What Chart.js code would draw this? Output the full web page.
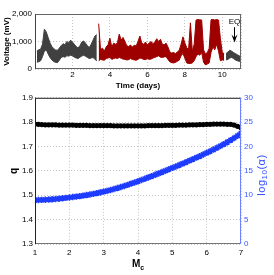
<!DOCTYPE html>
<html lang="en">
<head>
  <meta charset="UTF-8" />
  <title>Voltage and q</title>
  <script src="https://cdn.jsdelivr.net/npm/chart.js"></script>
  <style>
    html, body { margin: 0; padding: 0; background: #fff; overflow: hidden; }
    body { position: relative; width: 274px; height: 275px; font-family: "Liberation Sans", Arial, sans-serif; }
    canvas { position: absolute; left: 0; }
    #topChart { top: 0; }
    #bottomChart { top: 90px; }
    #mcTitle { position: absolute; left: 88px; top: 259px; width: 100px; text-align: center;
               font-weight: bold; font-size: 10px; line-height: 10px; color: #000; }
    #mcTitle sub { font-size: 7px; vertical-align: -3px; line-height: 0; }
    #alphaTitle { position: absolute; left: 221px; top: 169px; width: 80px; height: 12px; line-height: 12px;
                  text-align: center; font-size: 11px; color: #2f4dff; transform: rotate(-90deg); letter-spacing: 0.5px; }
    #alphaTitle sub { font-size: 8px; vertical-align: -2px; line-height: 0; }
  </style>
</head>
<body>
  <canvas id="topChart" width="274" height="92"></canvas>
  <canvas id="bottomChart" width="274" height="185"></canvas>
  <div id="mcTitle">M<sub>c</sub></div>
  <div id="alphaTitle">log<sub>10</sub>(α)</div>

  <script>
    // --- top panel: voltage envelope, sampled every 0.1 day (low / high of the noisy band)
    const sampleStep = 0.1;
    const grayAStart = 0.1;
    const grayALow  = [250, 260, 300, 450, 650, 700, 550, 420, 330, 270, 240, 230, 320, 420, 450, 430, 480, 470, 500, 480, 430, 400, 380, 430, 470, 500, 460, 420, 380, 400, 420, 350, 300];
    const grayAHigh = [650, 700, 720, 900, 1450, 1350, 1150, 950, 820, 740, 690, 680, 760, 850, 920, 880, 1000, 950, 1050, 980, 900, 820, 760, 850, 980, 1020, 940, 850, 780, 900, 1050, 1200, 1250];

    const redStart = 3.4;
    const redLow  = [300, 350, 330, 320, 380, 400, 420, 350, 380, 400, 380, 420, 390, 360, 350, 330, 340, 380, 350, 330,
                     320, 350, 400, 380, 350, 340, 380, 350, 360, 400, 420, 450, 480, 430, 420, 440, 450, 350, 260, 230,
                     220, 240, 280, 320, 480, 560, 400, 220, 200, 200, 220, 300, 450, 550, 500, 600, 250, 150, 180, 220,
                     600, 800, 700, 900, 650, 300, 330, 320];
    const redHigh = [1650, 700, 760, 650, 800, 880, 1120, 800, 940, 900, 950, 1270, 1050, 1150, 1000, 850, 820, 870, 800, 860,
                     840, 1000, 1200, 950, 900, 980, 870, 950, 1000, 920, 980, 1100, 1000, 1080, 900, 880, 940, 800, 620, 580,
                     600, 560, 620, 680, 900, 1170, 950, 780, 700, 1680, 650, 900, 1780, 1800, 1790, 1780, 700, 550, 600, 750,
                     1790, 1800, 1780, 1800, 1780, 1100, 600, 560];

    const grayBStart = 10.2;
    const grayBLow  = [330, 350, 400, 420, 380, 330, 300, 280, 270];
    const grayBHigh = [560, 620, 680, 650, 600, 560, 520, 480, 450];

    const eqDay = 10.65;
    const eqLabelMv = 1720;
    const arrowFromMv = 1520;
    const arrowToMv = 960;

    // --- bottom panel
    const mcStart = 1, mcStep = 0.1;
    const qValues = [1.792, 1.791, 1.790, 1.789, 1.789, 1.789, 1.789, 1.788, 1.788, 1.788, 1.788,
                     1.788, 1.787, 1.787, 1.787, 1.787, 1.786, 1.786, 1.786, 1.786, 1.786,
                     1.786, 1.786, 1.785, 1.785, 1.785, 1.785, 1.785, 1.785, 1.785, 1.785,
                     1.785, 1.785, 1.786, 1.786, 1.786, 1.786, 1.786, 1.787, 1.787, 1.787,
                     1.787, 1.788, 1.788, 1.788, 1.789, 1.789, 1.789, 1.790, 1.790, 1.791,
                     1.791, 1.792, 1.792, 1.792, 1.792, 1.791, 1.791, 1.788, 1.783, 1.777];
    const logAlpha = [9.00, 9.02, 9.05, 9.08, 9.12, 9.17, 9.23, 9.30, 9.38, 9.46, 9.55,
                      9.64, 9.73, 9.83, 9.93, 10.04, 10.16, 10.29, 10.43, 10.58, 10.74,
                      10.91, 11.09, 11.28, 11.48, 11.69, 11.91, 12.14, 12.38, 12.62, 12.87,
                      13.13, 13.39, 13.66, 13.93, 14.20, 14.48, 14.76, 15.04, 15.33, 15.62,
                      15.91, 16.20, 16.50, 16.80, 17.10, 17.41, 17.72, 18.04, 18.36, 18.69,
                      19.03, 19.38, 19.74, 20.11, 20.49, 20.89, 21.31, 21.75, 22.21, 22.70];

    const grayColor = '#404040';
    const redColor = '#9e0000';
    const blue = '#1e3cff';
    const blueAxis = '#6f82ff';
    const gridDash = [1, 2];

    Chart.defaults.font.family = '"Liberation Sans", Arial, sans-serif';
    Chart.defaults.font.size = 8;
    Chart.defaults.color = '#000';

    function points(start, values) {
      return values.map((v, i) => ({ x: Math.round((start + i * sampleStep) * 100) / 100, y: v }));
    }

    // low edge then high edge filled down to it
    function band(start, low, high, color) {
      return [
        { data: points(start, low), borderColor: color, borderWidth: 1, pointRadius: 0, fill: false },
        { data: points(start, high), borderColor: color, borderWidth: 1, pointRadius: 0, fill: '-1', backgroundColor: color }
      ];
    }

    // box around the plot area, each side its own colour
    const framePlugin = {
      id: 'frame',
      afterDatasetsDraw(chart, args, opts) {
        const { ctx, chartArea: a } = chart;
        const line = (color, x1, y1, x2, y2) => {
          ctx.strokeStyle = color;
          ctx.beginPath(); ctx.moveTo(x1, y1); ctx.lineTo(x2, y2); ctx.stroke();
        };
        ctx.save();
        ctx.lineWidth = 1;
        line(opts.top, a.left, a.top + 0.5, a.right, a.top + 0.5);
        line(opts.bottom, a.left, a.bottom - 0.5, a.right, a.bottom - 0.5);
        line(opts.left, a.left + 0.5, a.top, a.left + 0.5, a.bottom);
        line(opts.right, a.right - 0.5, a.top, a.right - 0.5, a.bottom);
        ctx.restore();
      }
    };

    const eqPlugin = {
      id: 'eq',
      afterDatasetsDraw(chart) {
        const { ctx, scales: { x, y } } = chart;
        const px = Math.round(x.getPixelForValue(eqDay)) + 0.5;
        const tip = y.getPixelForValue(arrowToMv);
        ctx.save();
        ctx.fillStyle = '#000';
        ctx.strokeStyle = '#000';
        ctx.font = '8px "Liberation Sans", Arial, sans-serif';
        ctx.textAlign = 'center';
        ctx.textBaseline = 'middle';
        ctx.fillText('EQ', px, y.getPixelForValue(eqLabelMv));
        ctx.lineWidth = 1;
        ctx.beginPath();
        ctx.moveTo(px, y.getPixelForValue(arrowFromMv));
        ctx.lineTo(px, tip - 4);
        ctx.stroke();
        ctx.beginPath();
        ctx.moveTo(px, tip);
        ctx.lineTo(px - 3, tip - 8);
        ctx.lineTo(px, tip - 5);
        ctx.lineTo(px + 3, tip - 8);
        ctx.closePath();
        ctx.fill();
        ctx.restore();
      }
    };

    new Chart(document.getElementById('topChart'), {
      type: 'scatter',
      data: {
        datasets: [
          ...band(grayAStart, grayALow, grayAHigh, grayColor),
          ...band(redStart, redLow, redHigh, redColor),
          ...band(grayBStart, grayBLow, grayBHigh, grayColor)
        ]
      },
      options: {
        responsive: false,
        animation: false,
        devicePixelRatio: 1,
        showLine: true,
        layout: { padding: { left: 0, right: 33, top: 14, bottom: 0 } },
        elements: { line: { tension: 0 } },
        plugins: {
          legend: { display: false },
          tooltip: { enabled: false },
          filler: { propagate: false },
          frame: { top: '#666', bottom: '#666', left: '#444', right: '#666' }
        },
        scales: {
          x: {
            type: 'linear', min: 0, max: 11,
            afterFit: s => { s.height = 23; },
            ticks: { stepSize: 2, padding: 1, maxRotation: 0, autoSkip: false,
                     callback: v => (v > 0 && v % 2 === 0) ? v : '' },
            grid: { color: '#c4c4c4', drawTicks: false },
            border: { display: false, dash: gridDash },
            title: { display: true, text: 'Time (days)', font: { weight: 'bold', size: 8 }, padding: { top: 0, bottom: 1 } }
          },
          y: {
            min: 0, max: 2000,
            afterFit: s => { s.width = 35; },
            ticks: { stepSize: 1000, padding: 3 },
            grid: { color: '#c4c4c4', drawTicks: false },
            border: { display: false, dash: gridDash },
            title: { display: true, text: 'Voltage (mV)', font: { weight: 'bold', size: 8 }, padding: { top: 2, bottom: 0 } }
          }
        }
      },
      plugins: [framePlugin, eqPlugin]
    });

    const mcValues = qValues.map((_, i) => Math.round((mcStart + i * mcStep) * 10) / 10);

    new Chart(document.getElementById('bottomChart'), {
      type: 'line',
      data: {
        labels: mcValues,
        datasets: [
          {
            label: 'q', yAxisID: 'y',
            data: mcValues.map((m, i) => ({ x: m, y: qValues[i] })),
            showLine: false, pointStyle: 'circle', pointRadius: 2.6,
            pointBackgroundColor: '#000', pointBorderColor: '#000', pointBorderWidth: 0
          },
          {
            label: 'log10(α)', yAxisID: 'y2',
            data: mcValues.map((m, i) => ({ x: m, y: logAlpha[i] })),
            showLine: false, pointStyle: 'star', pointRadius: 3.2,
            pointBorderColor: blue, pointBackgroundColor: blue, pointBorderWidth: 1.6
          }
        ]
      },
      options: {
        responsive: false,
        animation: false,
        devicePixelRatio: 1,
        layout: { padding: { left: 0, right: 0, top: 4, bottom: 0 } },
        plugins: {
          legend: { display: false },
          tooltip: { enabled: false },
          frame: { top: '#222', bottom: '#777', left: '#222', right: blueAxis }
        },
        scales: {
          x: {
            type: 'linear', min: 1, max: 7,
            afterFit: s => { s.height = 31; },
            ticks: { stepSize: 1, padding: 4, maxRotation: 0 },
            grid: { color: '#c4c4c4', drawTicks: false },
            border: { display: false, dash: gridDash }
          },
          y: {
            position: 'left', min: 1.3, max: 1.9,
            afterFit: s => { s.width = 35; },
            ticks: { stepSize: 0.1, padding: 2, callback: v => v.toFixed(1) },
            grid: { color: '#c4c4c4', drawTicks: false },
            border: { display: false, dash: gridDash },
            title: { display: true, text: 'q', font: { weight: 'bold', size: 10 }, padding: { top: 8, bottom: 0 } }
          },
          y2: {
            position: 'right', min: 0, max: 30,
            afterFit: s => { s.width = 33; },
            ticks: { stepSize: 5, padding: 3, color: '#3a58ff' },
            grid: { drawOnChartArea: false, drawTicks: false },
            border: { display: false }
          }
        }
      },
      plugins: [framePlugin]
    });
  </script>
</body>
</html>
